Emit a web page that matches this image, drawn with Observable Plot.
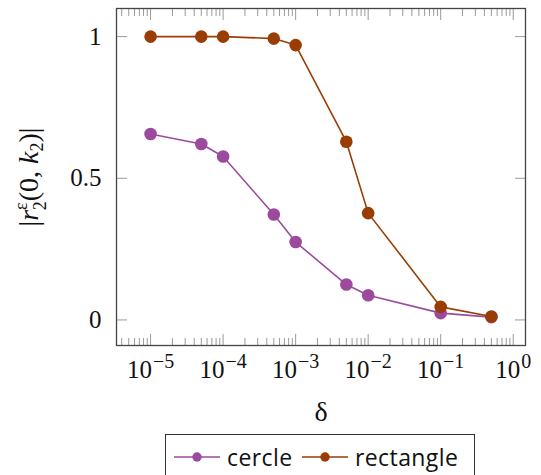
<!DOCTYPE html>
<html>
<head>
<meta charset="utf-8">
<script src="https://cdn.jsdelivr.net/npm/d3@7"></script>
<script src="https://cdn.jsdelivr.net/npm/@observablehq/plot@0.6"></script>
<style>
  html, body { margin: 0; padding: 0; background: #fff; }
  #wrap { position: relative; width: 541px; height: 475px; overflow: hidden; }
  #legend {
    position: absolute; left: 165px; top: 434px; width: 310px; height: 60px;
    border: 1.3px solid #333; box-sizing: border-box; background: #fff;
    font-family: "Open Sans", "Noto Sans", sans-serif; font-size: 23px; letter-spacing: 0.4px; color: #111;
  }
  .item { position: absolute; top: 5px; display: flex; align-items: center; height: 34px; }
  .item svg { display: block; }
</style>
</head>
<body>
<div id="wrap"></div>
<script>
// ---- data ----
const delta = [1e-5, 5e-5, 1e-4, 5e-4, 1e-3, 5e-3, 1e-2, 1e-1, 5e-1];
const cercle = [0.656, 0.621, 0.577, 0.372, 0.275, 0.125, 0.087, 0.024, 0.010];
const rectangle = [1.0, 1.0, 1.0, 0.993, 0.970, 0.629, 0.377, 0.046, 0.012];
const seriesNames = ["cercle", "rectangle"];
const seriesColors = ["#9c4a9e", "#9a3d05"];
const xMajor = [1e-5, 1e-4, 1e-3, 1e-2, 1e-1, 1];
const xMajorExp = ["−5", "−4", "−3", "−2", "−1", "0"];
const yMajor = [0, 0.5, 1];
const yTickLabels = ["0", "0.5", "1"];
const xDomain = [3.39e-6, 1.476];
const yDomain = [-0.0902, 1.0992];

const xMinor = [];
for (let e = -6; e <= 0; e++) for (let m = 2; m <= 9; m++) {
  const v = m * Math.pow(10, e);
  if (v > xDomain[0] && v < xDomain[1]) xMinor.push(v);
}

const rows = [];
delta.forEach((d, i) => {
  rows.push({delta: d, value: cercle[i], series: seriesNames[0]});
});
delta.forEach((d, i) => {
  rows.push({delta: d, value: rectangle[i], series: seriesNames[1]});
});

const serif = "'Liberation Serif', 'DejaVu Serif', serif";
const tickStroke = "#9a9a9a";

const plot = Plot.plot({
  width: 541,
  height: 430,
  marginLeft: 116,
  marginRight: 16,
  marginTop: 8,
  marginBottom: 85,
  style: {fontFamily: serif, background: "#fff"},
  x: {type: "log", domain: xDomain},
  y: {domain: yDomain},
  color: {domain: seriesNames, range: seriesColors},
  marks: [
    // inward ticks
    Plot.axisX(xMinor, {anchor: "bottom", tickSize: -7, stroke: tickStroke, tickFormat: () => "", label: null}),
    Plot.axisX(xMinor, {anchor: "top", tickSize: -7, stroke: tickStroke, tickFormat: () => "", label: null}),
    Plot.axisX(xMajor, {anchor: "bottom", tickSize: -11, stroke: tickStroke, tickFormat: () => "", label: null}),
    Plot.axisX(xMajor, {anchor: "top", tickSize: -11, stroke: tickStroke, tickFormat: () => "", label: null}),
    Plot.axisY(yMajor, {anchor: "left", tickSize: -11, stroke: tickStroke, tickFormat: () => "", label: null}),
    Plot.axisY(yMajor, {anchor: "right", tickSize: -11, stroke: tickStroke, tickFormat: () => "", label: null}),
    // labels
    Plot.axisX(xMajor, {anchor: "bottom", tickSize: 0, tickPadding: 15, fontSize: 25, fill: "#111",
      tickFormat: () => "10", label: "δ", labelAnchor: "center", labelArrow: "none", labelOffset: 75}),
    Plot.axisY(yMajor, {anchor: "left", tickSize: 0, tickPadding: 15, fontSize: 25, fill: "#111",
      tickFormat: (d, i) => yTickLabels[i], label: null}),
    Plot.line(rows, {x: "delta", y: "value", z: "series", stroke: "series", strokeWidth: 1.6}),
    Plot.dot(rows, {x: "delta", y: "value", fill: "series", r: 6.3, stroke: null}),
    Plot.frame({stroke: "#444", strokeWidth: 1.3})
  ]
});

const svg = d3.select(plot);

// tick label sizes
svg.selectAll('g[aria-label="x-axis tick label"] text, g[aria-label="y-axis tick label"] text')
  .style("font-size", "25px");

// superscript exponents on x tick labels (only the visible "10" labels)
svg.selectAll("text").filter(function() { return this.textContent === "10"; }).each(function(d, i) {
  d3.select(this).append("tspan").attr("dx", 1).attr("dy", "-0.5em").style("font-size", "20px").text(xMajorExp[i]);
});

// x-axis title styling
svg.selectAll('g[aria-label="x-axis label"] text').style("font-size", "28px").attr("fill", "#111");

// y-axis label with math formatting
const yl = svg.append("text")
  .attr("transform", "translate(38,177) rotate(-90)")
  .attr("text-anchor", "middle")
  .style("font-size", "28px")
  .attr("fill", "#111");
yl.append("tspan").text("|");
yl.append("tspan").attr("font-style", "italic").text("r");
yl.append("tspan").style("font-size", "18px").attr("dy", -11).text("ε");
yl.append("tspan").style("font-size", "18px").attr("dx", -8).attr("dy", 19).text("2");
yl.append("tspan").attr("dy", -8).text("(0, ");
yl.append("tspan").attr("font-style", "italic").text("k");
yl.append("tspan").style("font-size", "18px").attr("dy", 5).text("2");
yl.append("tspan").attr("dy", -5).text(")|");

// force serif font on all chart texts
svg.selectAll("text").style("font-family", serif);

const wrap = document.getElementById("wrap");
wrap.appendChild(plot);

// legend
const legend = document.createElement("div");
legend.id = "legend";
const positions = [8, 136];
seriesNames.forEach((name, i) => {
  const item = document.createElement("div");
  item.className = "item";
  item.style.left = positions[i] + "px";
  const sw = d3.create("svg").attr("width", 48).attr("height", 20);
  sw.append("line").attr("x1", 0).attr("x2", 46).attr("y1", 10).attr("y2", 10)
    .attr("stroke", seriesColors[i]).attr("stroke-width", 1.6);
  sw.append("circle").attr("cx", 23).attr("cy", 10).attr("r", 4.7).attr("fill", seriesColors[i]);
  item.appendChild(sw.node());
  const lab = document.createElement("span");
  lab.textContent = name;
  lab.style.marginLeft = "5px";
  item.appendChild(lab);
  legend.appendChild(item);
});
wrap.appendChild(legend);
</script>
</body>
</html>
